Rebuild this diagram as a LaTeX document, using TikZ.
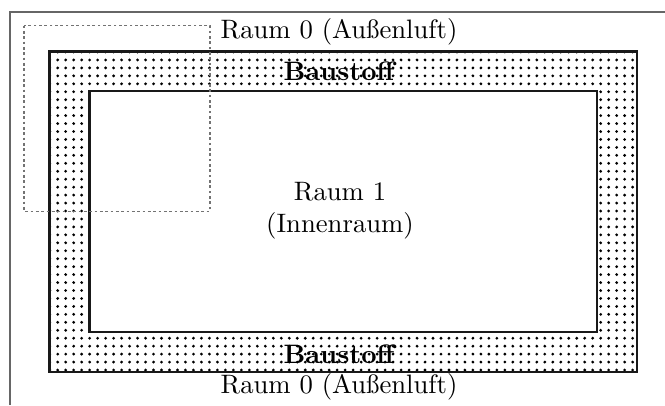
\documentclass[tikz,border=0pt]{standalone}
\begin{document}
\begin{tikzpicture}[x=0.375pt,y=-0.375pt,
  frameline/.style={draw=black!60,line width=0.45pt},
  wall/.style={draw=black!90,line width=0.8pt},
  crop/.style={draw=black!55,line width=0.38pt,dash pattern=on 1pt off 1pt},
  speck/.style={fill=black,draw=none},
  lbl/.style={inner sep=0pt,align=center,font=\fontsize{10}{12}\selectfont}]
\useasboundingbox (0,0) rectangle (665,405);
\fill[white] (0,0) rectangle (665,405);
\draw[frameline] (10,405) -- (10,12) -- (665,12);
\begin{scope}
  \clip (49,51) rectangle (637.5,372.5);
  \foreach \i in {-1,...,73} \foreach \j in {0,...,40}
    \fill[speck] ({57.7+7.985*\i},{52+7.95*\j}) circle[radius=1.55];
\end{scope}
\draw[wall] (49.5,51.5) rectangle (637,372);
\fill[white] (89.5,91) rectangle (597,332);
\draw[wall] (89.5,91) rectangle (597,332);
\draw[crop] (24,25.5) rectangle (210,211);
\node[lbl] (r0top) at (339,32) {Raum 0 (Außenluft)};
\node[lbl] (r0bot) at (339,387) {Raum 0 (Außenluft)};
\node[lbl,font=\fontsize{10}{12}\selectfont\bfseries] (btop) at (339,71) {Baustoff};
\node[lbl,font=\fontsize{10}{12}\selectfont\bfseries] (bbot) at (339,354) {Baustoff};
\node[lbl] (r1) at (340,210.5) {Raum 1\\(Innenraum)};
\end{tikzpicture}
\end{document}
